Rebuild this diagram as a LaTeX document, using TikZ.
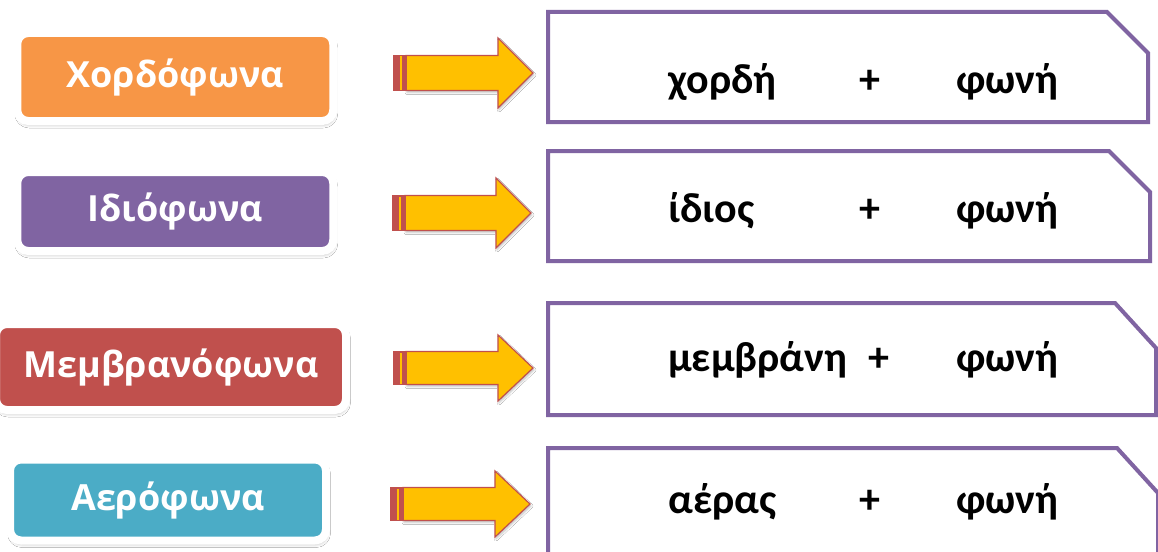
\documentclass[tikz,border=0pt]{standalone}
\usepackage{fontspec}
\newfontfamily\labfont{Open Sans}
\newfontfamily\boxfont{Carlito}
\usetikzlibrary{shadows.blur}
\definecolor{corange}{HTML}{F79646}
\definecolor{cpurple}{HTML}{8064A2}
\definecolor{cred}{HTML}{C0504D}
\definecolor{cteal}{HTML}{4BACC6}
\definecolor{cyellow}{HTML}{FFC000}
\tikzset{
  labbox/.style={draw=white, line width=8pt, rounded corners=11pt, inner sep=0pt,
    text=white, font=\labfont\bfseries\fontsize{36}{42}\selectfont,
    blur shadow={shadow xshift=1pt, shadow yshift=-3.5pt, shadow blur radius=3.5pt, shadow opacity=30}},
  framebox/.style={draw=cpurple, line width=4pt, line join=miter},
  word/.style={font=\boxfont\bfseries\fontsize{42}{50}\selectfont, inner sep=0pt, anchor=base west},
  arrowbody/.style={fill=cyellow, draw=cred, line width=1.2pt, line join=miter,
    blur shadow={shadow xshift=1pt, shadow yshift=-2pt, shadow blur radius=2pt, shadow opacity=25}},
}
\newcommand{\blockarrow}[4]{% x start, tip x, tip y, half shaft
  \path[arrowbody] (#1+12,#3-#4) -- (#2-35,#3-#4) -- (#2-35,#3-2*#4) -- (#2,#3) -- (#2-35,#3+2*#4) -- (#2-35,#3+#4) -- (#1+12,#3+#4) -- cycle;
  \fill[cred] (#1,#3-#4) rectangle (#1+12,#3+#4);
  \fill[cyellow] (#1+5.5,#3-#4+1) rectangle (#1+8,#3+#4-1);
  \draw[cred, line width=1.2pt] (#1,#3-#4) rectangle (#1+12,#3+#4);
}
\begin{document}
\begin{tikzpicture}[x=1pt,y=-1pt]
\useasboundingbox (0,0) rectangle (1158,551);
\fill[white] (0,0) rectangle (1158,551);

% left category boxes
\node[labbox, fill=corange, minimum width=316pt, minimum height=88pt] (chord) at (175.25,77) {Χορδόφωνα};
\node[labbox, fill=cpurple, minimum width=316pt, minimum height=79pt] (idio) at (175.25,211.5) {Ιδιόφωνα};
\node[labbox, fill=cred, minimum width=350pt, minimum height=86pt] (memb) at (171,367) {Μεμβρανόφωνα};
\node[labbox, fill=cteal, minimum width=316pt, minimum height=81pt] (aero) at (168,500) {Αερόφωνα};

% arrows
\blockarrow{394}{533}{73}{17.5}
\blockarrow{393}{531}{213}{17.5}
\blockarrow{394}{533}{368}{16.5}
\blockarrow{391}{530}{504}{16.5}

% right boxes
\draw[framebox] (548,12) -- (1107,12) -- (1148,53) -- (1148,122) -- (548,122) -- cycle;
\draw[framebox] (548,151) -- (1109,151) -- (1150,192) -- (1150,261) -- (548,261) -- cycle;
\draw[framebox] (548,303) -- (1115,303) -- (1156,348) -- (1156,415) -- (548,415) -- cycle;
\draw[framebox] (548,448) -- (1117,448) -- (1158,493) -- (1158,570) -- (548,570) -- cycle;

\node[word] (w1a) at (668,93) {χορδή};
\node[word, anchor=base] (w1b) at (870,93) {+};
\node[word] (w1c) at (956,93) {φωνή};

\node[word] (w2a) at (668,222) {ίδιος};
\node[word, anchor=base] (w2b) at (870,222) {+};
\node[word] (w2c) at (956,222) {φωνή};

\node[word] (w3a) at (668,371) {μεμβράνη};
\node[word, anchor=base] (w3b) at (879,371) {+};
\node[word] (w3c) at (956,371) {φωνή};

\node[word] (w4a) at (668,513) {αέρας};
\node[word, anchor=base] (w4b) at (870,513) {+};
\node[word] (w4c) at (956,513) {φωνή};
\end{tikzpicture}
\end{document}
